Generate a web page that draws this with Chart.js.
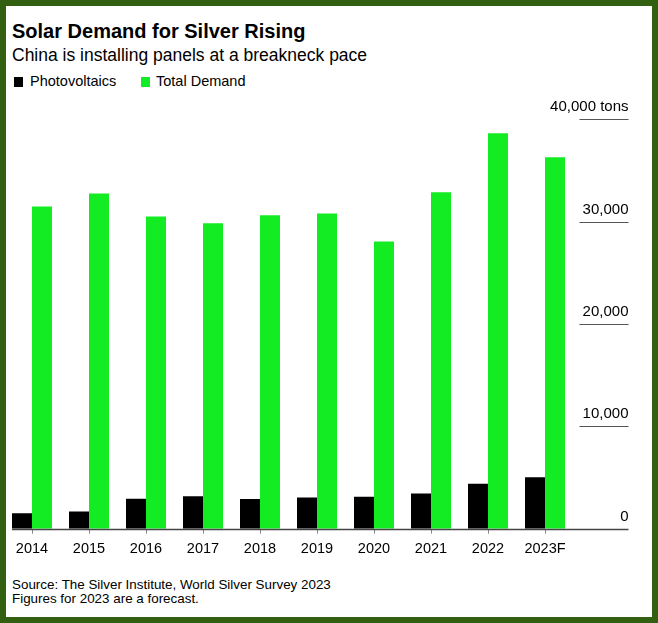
<!DOCTYPE html>
<html>
<head>
<meta charset="utf-8">
<script src="https://cdn.jsdelivr.net/npm/chart.js@4/dist/chart.umd.min.js"></script>
<style>
  html, body { margin: 0; padding: 0; }
  body { width: 658px; height: 623px; position: relative; overflow: hidden; background: #335f10;
         font-family: "Liberation Sans", Arial, sans-serif; color: #000; }
  #inner { position: absolute; left: 6px; top: 6px; width: 646px; height: 611px; background: #fff; }
  .txt { position: absolute; white-space: nowrap; line-height: 1; }
  #title { left: 12px; top: 20.8px; font-size: 20px; font-weight: bold; }
  #subtitle { left: 12px; top: 46.9px; font-size: 17.5px; }
  .leg { top: 73.7px; font-size: 14.5px; }
  .sw { position: absolute; top: 77px; width: 9px; height: 10px; }
  .foot { left: 12px; font-size: 13.4px; }
  #chart { position: absolute; left: 0; top: 0; }
</style>
</head>
<body>
<div id="inner"></div>
<div class="txt" id="title">Solar Demand for Silver Rising</div>
<div class="txt" id="subtitle">China is installing panels at a breakneck pace</div>
<div class="sw" style="left:14px;background:#000"></div>
<div class="txt leg" style="left:30px">Photovoltaics</div>
<div class="sw" style="left:141px;background:#13eb22"></div>
<div class="txt leg" style="left:156px">Total Demand</div>
<div class="txt foot" style="top:577.5px">Source: The Silver Institute, World Silver Survey 2023</div>
<div class="txt foot" style="top:592px">Figures for 2023 are a forecast.</div>
<canvas id="chart" width="658" height="623"></canvas>
<script>
// tons of silver
const years = ['2014', '2015', '2016', '2017', '2018', '2019', '2020', '2021', '2022', '2023F'];
const photovoltaics = [1520, 1690, 2920, 3180, 2890, 3050, 3120, 3440, 4390, 5030];
const totalDemand = [31480, 32750, 30500, 29850, 30630, 30800, 28070, 32870, 38630, 36290];
const yTicks = [0, 10000, 20000, 30000, 40000];
const yLabels = ['0', '10,000', '20,000', '30,000', '40,000 tons'];

const font = '"Liberation Sans", Arial, sans-serif';

// short grid segments + labels on the right, long baseline at zero
const rightAxis = {
    id: 'rightAxis',
    afterDraw(chart) {
        const ctx = chart.ctx;
        const y = chart.scales.y;
        ctx.save();
        ctx.font = '15px ' + font;
        ctx.textAlign = 'right';
        ctx.textBaseline = 'alphabetic';
        yTicks.forEach((v, i) => {
            const py = Math.round(y.getPixelForValue(v)) + 0.5;
            ctx.beginPath();
            if (v === 0) {
                ctx.strokeStyle = '#444';
                ctx.lineWidth = 1.5;
                ctx.moveTo(12, py);
            } else {
                ctx.strokeStyle = '#555';
                ctx.lineWidth = 1.2;
                ctx.moveTo(579.5, py);
            }
            ctx.lineTo(628.5, py);
            ctx.stroke();
            ctx.fillStyle = '#000';
            ctx.fillText(yLabels[i], 628.5, py - 8.5);
        });
        ctx.restore();
    }
};

new Chart(document.getElementById('chart'), {
    type: 'bar',
    data: {
        labels: years,
        datasets: [
            {
                label: 'Photovoltaics',
                data: photovoltaics,
                backgroundColor: '#000000'
            },
            {
                label: 'Total Demand',
                data: totalDemand,
                backgroundColor: '#13eb22'
            }
        ]
    },
    options: {
        responsive: false,
        animation: false,
        categoryPercentage: 40 / 57,
        barPercentage: 1,
        layout: {
            padding: { left: 3.5, right: 84.5, top: 119.3, bottom: 57.9 }
        },
        plugins: {
            legend: { display: false },
            tooltip: { enabled: false }
        },
        scales: {
            y: { display: false, min: 0, max: 40000 },
            x: {
                border: { display: false },
                grid: {
                    display: true,
                    offset: false,
                    drawOnChartArea: false,
                    drawTicks: true,
                    tickLength: 5,
                    color: '#888'
                },
                ticks: {
                    color: '#000',
                    padding: 7,
                    maxRotation: 0,
                    font: { family: font, size: 14.5 }
                }
            }
        }
    },
    plugins: [rightAxis]
});
</script>
</body>
</html>
